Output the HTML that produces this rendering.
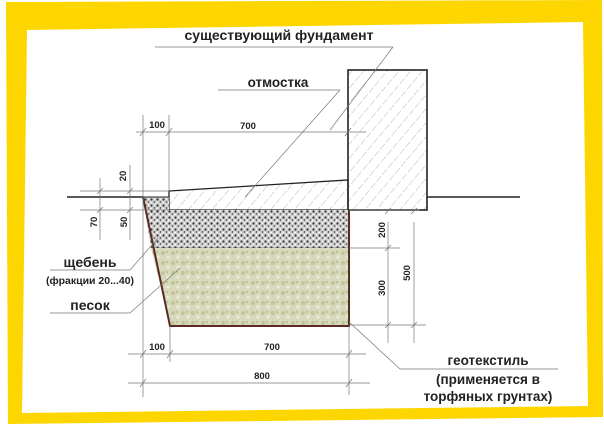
<!DOCTYPE html>
<html><head><meta charset="utf-8"><style>
html,body{margin:0;padding:0;background:#fff;width:604px;height:431px;overflow:hidden}
svg text{font-family:"Liberation Sans",sans-serif;font-weight:bold;fill:#222}
</style></head><body>
<svg width="604" height="431" viewBox="0 0 604 431" xmlns="http://www.w3.org/2000/svg">
<defs>
<pattern id="hatch" width="9" height="9" patternUnits="userSpaceOnUse" patternTransform="rotate(40)">
<line x1="0" y1="0" x2="0" y2="9" stroke="#999" stroke-width="0.7" stroke-dasharray="5,2"/>
</pattern>
<pattern id="grav" width="6" height="6" patternUnits="userSpaceOnUse">
<rect width="6" height="6" fill="#cfcfcf"/>
<circle cx="1.5" cy="1.5" r="1.1" fill="#333"/><circle cx="4.5" cy="4" r="0.9" fill="#555"/><circle cx="4.5" cy="1" r="0.8" fill="#fff"/><circle cx="1" cy="4.5" r="0.9" fill="#fff"/>
</pattern>
<pattern id="sand" width="10" height="10" patternUnits="userSpaceOnUse">
<rect width="10" height="10" fill="#d8d9bc"/>
<circle cx="3" cy="3" r="2" fill="#c2c597"/><circle cx="8" cy="7" r="1.6" fill="#ebebdb"/><circle cx="7" cy="2" r="1" fill="#b5b98a"/>
</pattern>
</defs>
<polygon points="6,2 602,0 603,417 8,424" fill="#fdd600"/>
<polygon points="27,30 583,22 588,406 22,413" fill="#fff"/>

<rect x="348" y="70" width="79" height="140" fill="url(#hatch)" stroke="#222" stroke-width="1.6"/>
<polygon points="169,191 348,180 348,210 169,210" fill="url(#hatch)" stroke="#222" stroke-width="1.3"/>
<polygon points="143,197 169,197 169,210 348,210 348,248 151,248" fill="url(#grav)"/>
<line x1="151" y1="248" x2="348" y2="248" stroke="#555" stroke-width="0.8"/>
<polygon points="151,248 348,248 348,325 170,325" fill="url(#sand)"/>
<polyline points="143,197 170,326 349,326 349,210" fill="none" stroke="#5a2a25" stroke-width="2"/>
<line x1="67" y1="197" x2="143" y2="197" stroke="#222" stroke-width="1.6"/>
<line x1="143" y1="197" x2="169" y2="197" stroke="#222" stroke-width="1"/>
<line x1="427" y1="197" x2="520" y2="197" stroke="#222" stroke-width="1.4"/>

<g stroke="#777" stroke-width="0.7" fill="none">
<line x1="136" y1="132" x2="366" y2="132"/>
<line x1="143" y1="115" x2="143" y2="197"/>
<line x1="169" y1="115" x2="169" y2="191"/>
<line x1="140" y1="136" x2="146" y2="128"/><line x1="166" y1="136" x2="172" y2="128"/><line x1="345" y1="136" x2="351" y2="128"/>
<line x1="80" y1="191" x2="169" y2="191"/>
<line x1="80" y1="210" x2="169" y2="210"/>
<line x1="100" y1="178" x2="100" y2="240"/>
<line x1="130" y1="165" x2="130" y2="240"/>
<line x1="97" y1="194" x2="103" y2="188"/><line x1="97" y1="213" x2="103" y2="207"/>
<line x1="127" y1="194" x2="133" y2="188"/><line x1="127" y1="213" x2="133" y2="207"/>
<line x1="128" y1="354" x2="366" y2="354"/>
<line x1="128" y1="383" x2="370" y2="383"/>
<line x1="143" y1="197" x2="143" y2="397"/>
<line x1="170" y1="326" x2="170" y2="362"/>
<line x1="349" y1="326" x2="349" y2="395"/>
<line x1="140" y1="358" x2="146" y2="350"/><line x1="167" y1="358" x2="173" y2="350"/><line x1="346" y1="358" x2="352" y2="350"/>
<line x1="140" y1="387" x2="146" y2="379"/><line x1="346" y1="387" x2="352" y2="379"/>
<line x1="349" y1="248" x2="400" y2="248"/>
<line x1="349" y1="325" x2="426" y2="325"/>
<line x1="388" y1="222" x2="388" y2="343"/>
<line x1="414" y1="222" x2="414" y2="343"/>
<line x1="385" y1="251" x2="391" y2="245"/><line x1="385" y1="328" x2="391" y2="322"/>
<line x1="385" y1="214" x2="391" y2="208"/>
<line x1="411" y1="214" x2="417" y2="208"/><line x1="411" y1="328" x2="417" y2="322"/>
<line x1="349" y1="210" x2="420" y2="210"/>
<line x1="155" y1="47" x2="393" y2="47"/>
<line x1="393" y1="47" x2="330" y2="130"/>
<line x1="218" y1="90" x2="340" y2="90"/>
<line x1="340" y1="90" x2="245" y2="197"/>
<line x1="50" y1="270" x2="130" y2="270"/>
<line x1="130" y1="270" x2="158" y2="238"/>
<line x1="50" y1="313" x2="130" y2="313"/>
<line x1="130" y1="313" x2="180" y2="268"/>
<line x1="400" y1="369" x2="558" y2="369"/>
<line x1="400" y1="369" x2="349" y2="322"/>
</g>

<g font-size="13.5" text-anchor="middle">
<text x="279" y="40" font-size="14">существующий фундамент</text>
<text x="278" y="87">отмостка</text>
<text x="90" y="267" font-size="14">щебень</text>
<text x="90" y="284" font-size="10.5">(фракции 20...40)</text>
<text x="90" y="310" font-size="14">песок</text>
<text x="488" y="365">геотекстиль</text>
<text x="488" y="384">(применяется в</text>
<text x="488" y="401">торфяных грунтах)</text>
</g>
<g font-size="9.5" text-anchor="middle">
<text x="157" y="128">100</text>
<text x="248" y="129">700</text>
<text x="157" y="350">100</text>
<text x="272" y="350">700</text>
<text x="262" y="379">800</text>
<text transform="translate(126,176) rotate(-90)">20</text>
<text transform="translate(97,222) rotate(-90)">70</text>
<text transform="translate(127,222) rotate(-90)">50</text>
<text transform="translate(385,230) rotate(-90)">200</text>
<text transform="translate(385,288) rotate(-90)">300</text>
<text transform="translate(410,273) rotate(-90)">500</text>
</g>
</svg>
</body></html>
